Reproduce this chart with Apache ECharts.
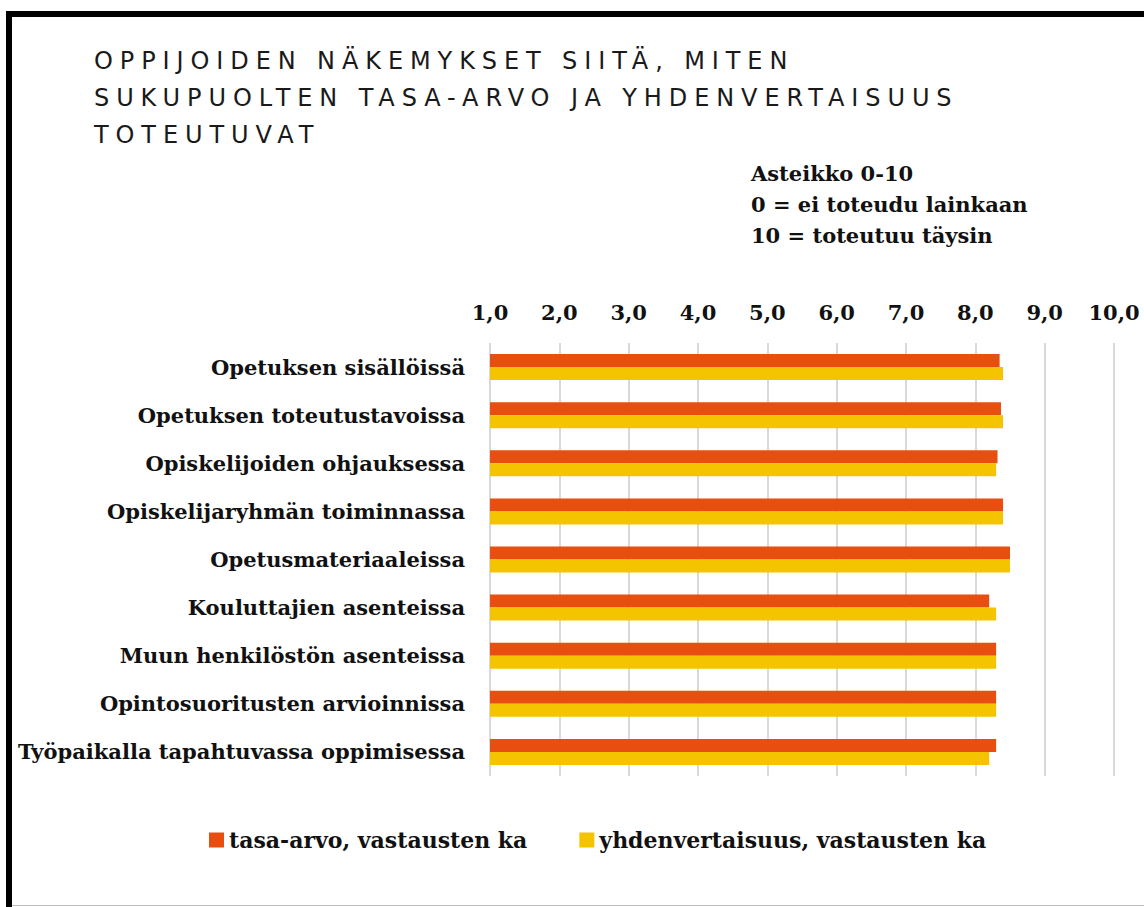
<!DOCTYPE html>
<html><head><meta charset="utf-8">
<script src="https://cdn.jsdelivr.net/npm/echarts@6/dist/echarts.min.js"></script>
<style>html,body{margin:0;padding:0;background:#fff}#c{width:1144px;height:907px}</style>
</head><body><div id="c"></div>
<script>
const categories = ["Opetuksen sisällöissä","Opetuksen toteutustavoissa","Opiskelijoiden ohjauksessa","Opiskelijaryhmän toiminnassa","Opetusmateriaaleissa","Kouluttajien asenteissa","Muun henkilöstön asenteissa","Opintosuoritusten arvioinnissa","Työpaikalla tapahtuvassa oppimisessa"];
const tasaArvo = [8.35,8.37,8.32,8.4,8.5,8.2,8.3,8.3,8.3];
const yhdenvertaisuus = [8.4,8.4,8.3,8.4,8.5,8.3,8.3,8.3,8.2];
const seriesNames = ["tasa-arvo, vastausten ka","yhdenvertaisuus, vastausten ka"];
const titleLines = ["OPPIJOIDEN NÄKEMYKSET SIITÄ, MITEN","SUKUPUOLTEN TASA-ARVO JA YHDENVERTAISUUS","TOTEUTUVAT"];
const noteLines = ["Asteikko 0-10","0 = ei toteudu lainkaan","10 = toteutuu täysin"];
const serif = "'DejaVu Serif', serif";
const titleFont = "normal 24px 'DejaVu Sans', sans-serif";
const chart = echarts.init(document.getElementById('c'), null, {renderer:'svg'});
chart.setOption({
  animation:false,
  backgroundColor:'#fff',
  graphic:[
    {type:'rect',shape:{x:9,y:14,width:1200,height:1000},style:{fill:'none',stroke:'#000',lineWidth:6},silent:true},
    {type:'line',shape:{x1:12,y1:905.5,x2:1144,y2:905.5},style:{stroke:'#bdbdbd',lineWidth:1},silent:true},
    {type:'text',left:94,top:49,style:{text:titleLines[0],font:titleFont,fill:'#1a1a1a'}},
    {type:'text',left:94,top:86,style:{text:titleLines[1],font:titleFont,fill:'#1a1a1a'}},
    {type:'text',left:94,top:123,style:{text:titleLines[2],font:titleFont,fill:'#1a1a1a'}},
    {type:'text',left:751,top:158,style:{text:noteLines.join('\n'),font:"bold 21px "+serif,lineHeight:31,fill:'#111'}}
  ],
  legend:{bottom:51,left:204,itemWidth:15,itemHeight:15,itemGap:52,icon:'rect',textStyle:{fontFamily:serif,fontSize:22,fontWeight:'bold',color:'#111'},data:seriesNames},
  grid:{left:490,right:30,top:343,bottom:131,containLabel:false},
  xAxis:{type:'value',position:'top',min:1,max:10,interval:1,
    axisLine:{show:false},axisTick:{show:false},
    splitLine:{lineStyle:{color:'#d9d9d9',width:2}},
    axisLabel:{margin:20,fontFamily:serif,fontSize:21,fontWeight:'bold',color:'#111',formatter:v=>v.toFixed(1).replace('.',',')}},
  yAxis:{type:'category',inverse:true,data:categories,
    axisLine:{show:false},axisTick:{show:false},
    axisLabel:{margin:25,fontFamily:serif,fontSize:21,fontWeight:'bold',color:'#111'}},
  series:[
    {name:seriesNames[0],type:'bar',data:tasaArvo,barWidth:13,barGap:'0%',itemStyle:{color:'#E84E10'}},
    {name:seriesNames[1],type:'bar',data:yhdenvertaisuus,barWidth:13,barGap:'0%',itemStyle:{color:'#F5C400'}}
  ]
});
// widen the title letters like the reference (letter-spaced heading)
document.querySelectorAll('#c svg text').forEach(t=>{
  if (titleLines.includes(t.textContent)) t.setAttribute('letter-spacing','6.9');
});
</script></body></html>
